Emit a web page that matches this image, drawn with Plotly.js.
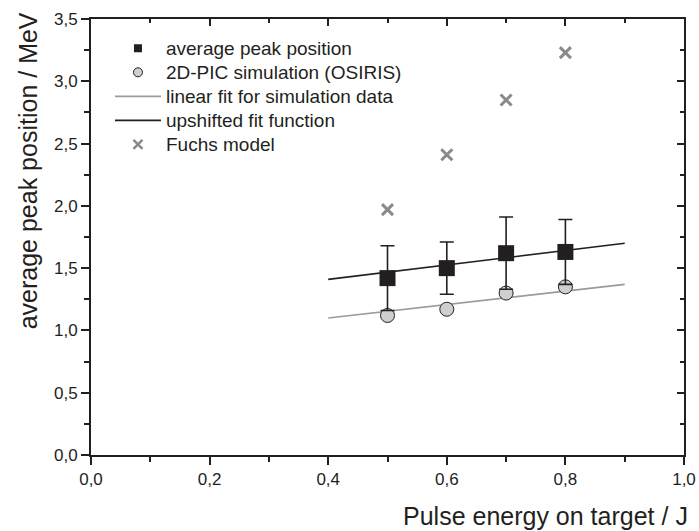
<!DOCTYPE html>
<html>
<head>
<meta charset="utf-8">
<script src="https://cdn.plot.ly/plotly-3.0.1.min.js"></script>
<style>html,body{margin:0;padding:0;background:#fff;}#chart{width:699px;height:531px;}</style>
</head>
<body>
<div id="chart"></div>
<script>
// Data
const energy = [0.5, 0.6, 0.7, 0.8];
const avgPeak = [1.42, 1.50, 1.62, 1.63];
const avgPeakErr = [0.26, 0.21, 0.29, 0.26];
const picSim = [1.12, 1.17, 1.30, 1.35];
const fuchs = [1.97, 2.41, 2.85, 3.23];
const fitX = [0.4, 0.9];
const linFitY = [1.10, 1.37];
const upFitY = [1.41, 1.70];

const xTitle = 'Pulse energy on target / J';
const yTitle = 'average peak position / MeV';
const names = ['average peak position', '2D-PIC simulation (OSIRIS)',
               'linear fit for simulation data', 'upshifted fit function', 'Fuchs model'];

const font = 'Liberation Sans, Arial, Helvetica, sans-serif';
const ink = '#231f20';
const grayLine = '#9b9b9b';
const grayX = '#8a8a8a';
const big = s => '<span style="font-size:19px">' + s + '</span>';

const traces = [
  {x: fitX, y: linFitY, mode: 'lines', showlegend: false, line: {color: grayLine, width: 1.6}},
  {x: fitX, y: upFitY, mode: 'lines', showlegend: false, line: {color: ink, width: 1.6}},
  {x: energy, y: picSim, mode: 'markers', showlegend: false,
   marker: {symbol: 'circle', size: 14, color: '#cfcfcf', line: {color: ink, width: 1}}},
  {x: energy, y: avgPeak, mode: 'markers', showlegend: false,
   error_y: {type: 'data', array: avgPeakErr, visible: true, color: ink, thickness: 1.6, width: 7},
   marker: {symbol: 'square', size: 16, color: ink, line: {color: ink, width: 0}}},
  {x: energy, y: fuchs, mode: 'markers', showlegend: false,
   marker: {symbol: 'x-thin-open', size: 11, color: grayX, line: {color: grayX, width: 3}}},
  // legend entries (small symbols as in the reference)
  {x: [null], y: [null], mode: 'markers', name: big(names[0]),
   marker: {symbol: 'square', size: 8, color: ink}},
  {x: [null], y: [null], mode: 'markers', name: big(names[1]),
   marker: {symbol: 'circle', size: 9, color: '#cfcfcf', line: {color: ink, width: 1}}},
  {x: [null], y: [null], mode: 'lines', name: big(names[2]), line: {color: grayLine, width: 1.6}},
  {x: [null], y: [null], mode: 'lines', name: big(names[3]), line: {color: ink, width: 1.6}},
  {x: [null], y: [null], mode: 'markers', name: big(names[4]),
   marker: {symbol: 'x-thin-open', size: 9, color: grayX, line: {color: grayX, width: 2.5}}},
  {x: [0], y: [0], xaxis: 'x2', yaxis: 'y2', mode: 'markers', showlegend: false,
   marker: {opacity: 0}, hoverinfo: 'skip'}
];

const axBase = {
  showgrid: false, zeroline: false, showline: true, linewidth: 2, linecolor: ink,
  tickwidth: 2, tickcolor: ink, tickformat: '.1f',
  tickfont: {family: font, size: 17, color: ink}
};

const layout = {
  width: 699, height: 531,
  margin: {l: 91, r: 15, t: 19, b: 76},
  paper_bgcolor: '#fff', plot_bgcolor: '#fff',
  separators: ', ',
  font: {family: font, color: ink},
  showlegend: true,
  legend: {x: 0.032, y: 0.972, xanchor: 'left', yanchor: 'top',
           font: {family: font, size: 16.2, color: ink},
           bgcolor: 'rgba(0,0,0,0)', tracegroupgap: 0, itemwidth: 46},
  xaxis: Object.assign({}, axBase, {range: [0, 1], dtick: 0.2, ticks: 'outside', ticklen: 8,
    minor: {dtick: 0.1, ticks: 'outside', ticklen: 5, tickwidth: 2, tickcolor: ink}}),
  yaxis: Object.assign({}, axBase, {range: [0, 3.5], dtick: 0.5, ticks: 'outside', ticklen: 8,
    minor: {dtick: 0.25, ticks: 'outside', ticklen: 5, tickwidth: 2, tickcolor: ink}}),
  xaxis2: Object.assign({}, axBase, {overlaying: 'x', side: 'top', range: [0, 1], dtick: 0.2,
    ticks: 'inside', ticklen: 7, showticklabels: false,
    minor: {dtick: 0.1, ticks: 'inside', ticklen: 4, tickwidth: 2, tickcolor: ink}}),
  yaxis2: Object.assign({}, axBase, {overlaying: 'y', side: 'right', range: [0, 3.5], dtick: 0.5,
    ticks: 'inside', ticklen: 7, showticklabels: false,
    minor: {dtick: 0.25, ticks: 'inside', ticklen: 4, tickwidth: 2, tickcolor: ink}}),
  annotations: [
    {text: xTitle, xref: 'paper', yref: 'paper', x: 1.01, y: -0.14, xanchor: 'right', yanchor: 'middle',
     showarrow: false, font: {family: font, size: 25, color: ink}},
    {text: yTitle, xref: 'paper', yref: 'paper', x: -0.107, y: 1.02, xanchor: 'center', yanchor: 'top',
     textangle: -90, showarrow: false, font: {family: font, size: 25, color: ink}}
  ]
};

Plotly.newPlot('chart', traces, layout, {displayModeBar: false, staticPlot: true});
</script>
</body>
</html>
